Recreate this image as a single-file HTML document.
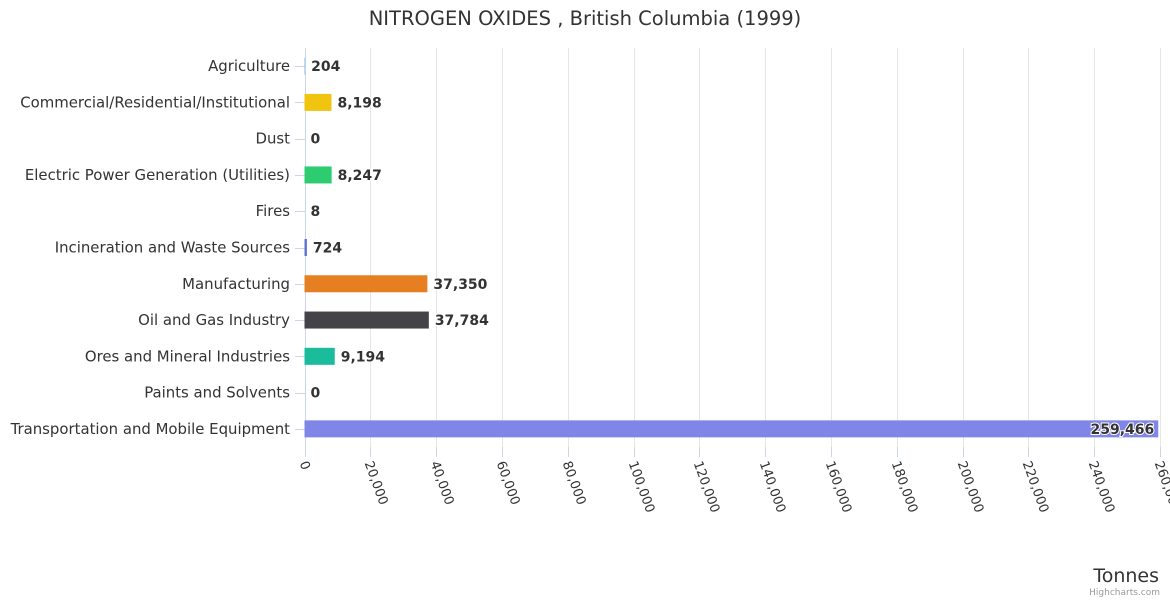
<!DOCTYPE html>
<html><head><meta charset="utf-8"><style>
body{margin:0;background:#fff;font-family:"Liberation Sans","DejaVu Sans",sans-serif}
svg text{font-family:"DejaVu Sans","Liberation Sans",sans-serif}
</style></head><body>
<svg id="chart" width="1170" height="600" xmlns="http://www.w3.org/2000/svg">
<rect width="1170" height="600" fill="#fff"/>
<text x="585" y="25" text-anchor="middle" font-size="19.5" fill="#333">NITROGEN OXIDES , British Columbia (1999)</text>
<g id="grid"></g><g id="bars"></g><g id="labels"></g>
<text x="1159" y="582" text-anchor="end" font-size="19" fill="#333">Tonnes</text>
<text x="1160" y="595" text-anchor="end" font-size="9" fill="#999">Highcharts.com</text>
</svg>
<script>
const categories=["Agriculture","Commercial/Residential/Institutional","Dust","Electric Power Generation (Utilities)","Fires","Incineration and Waste Sources","Manufacturing","Oil and Gas Industry","Ores and Mineral Industries","Paints and Solvents","Transportation and Mobile Equipment"];
const values=[204,8198,0,8247,8,724,37350,37784,9194,0,259466];
const colors=["#7cb5ec","#f1c40f","#434348","#2ecc71","#f7a35c","#5b6fd6","#e67e22","#434348","#1abc9c","#8085e9","#8085e8"];
const ticks=[0,20000,40000,60000,80000,100000,120000,140000,160000,180000,200000,220000,240000,260000];
const NS="http://www.w3.org/2000/svg";
const x0=304.5,x1=1160,yTop=48,yBot=447,xmax=260000;
const xs=v=>x0+(x1-x0)*v/xmax;
const step=(yBot-yTop)/categories.length;
const yc=i=>yTop+step*(i+0.5);
function mk(t,a,p){const e=document.createElementNS(NS,t);for(const k in a)e.setAttribute(k,a[k]);p.appendChild(e);return e;}
const grid=document.getElementById('grid'),bars=document.getElementById('bars'),labels=document.getElementById('labels');
ticks.forEach(t=>{
 const x=Math.round(xs(t))+0.5;
 const l=mk('line',{x1:x,x2:x,y1:yTop,y2:yBot,stroke:t===0?'#ccd6eb':'#e6e6e6','stroke-width':1},grid);
 
 
 const tk=mk('line',{x1:x,x2:x,y1:yBot,y2:yBot+10,stroke:'#ccd6eb'},grid);
 
 
 const tx=mk('text',{x:0,y:0,'font-size':13,fill:'#333',transform:`translate(${x-6},${yBot+16}) rotate(70)`},labels);
 
 
 tx.textContent=t.toLocaleString('en-US');
});
categories.forEach((c,i)=>{
 const y=yc(i);
 const tk=mk('line',{x1:295,x2:305,y1:Math.round(y)+0.5,y2:Math.round(y)+0.5,stroke:'#ccd6eb'},grid);
 
 
 const cl=mk('text',{x:290,y:y+5,'text-anchor':'end','font-size':14.9,fill:'#333'},labels);
 
 
 cl.textContent=c;
 const w=xs(values[i])-x0;
 const b=mk('rect',{x:x0,y:y-8.5,width:Math.max(w,0),height:17,fill:colors[i]},bars);
 
 
 const inside=xs(values[i])+70>x1;
 const vl=mk('text',{x:inside?xs(values[i])-4:xs(values[i])+6,y:y+5,'text-anchor':inside?'end':'start','font-size':14,'font-weight':'bold',fill:'#333',stroke:'#fff','stroke-width':2,'paint-order':'stroke'},labels);
 
 
 vl.textContent=values[i].toLocaleString('en-US');
});
</script>
</body></html>
